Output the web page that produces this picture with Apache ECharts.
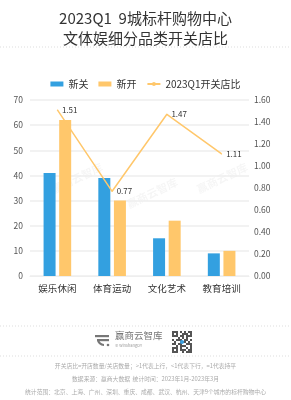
<!DOCTYPE html>
<html><head><meta charset="utf-8">
<script src="https://cdn.jsdelivr.net/npm/echarts@6/dist/echarts.min.js"></script>
<style>html,body{margin:0;padding:0;background:#fff}#c{width:291px;height:400px}</style>
</head><body><div id="c"></div>
<script>
const categories = ['娱乐休闲','体育运动','文化艺术','教育培训'];
const closeVals = [41, 39, 15, 9];
const openVals = [62, 30, 22, 10];
const ratioVals = [1.51, 0.77, 1.47, 1.11];
const leftTicks = [0,10,20,30,40,50,60,70];
const rightTicks = [0,0.2,0.4,0.6,0.8,1.0,1.2,1.4,1.6];
const footLines = [
 '开关店比=开店数量/关店数量；>1代表上行，<1代表下行，=1代表持平',
 '数据来源：赢商大数据  统计时间：2023年1月-2023年3月',
 '统计范围：北京、上海、广州、深圳、重庆、成都、武汉、杭州、天津9个城市的标杆购物中心'
];
const qr = [
 '1110101011','1010011101','1110110111','0001010100','1011101101',
 '0100111010','1101100111','0010111001','1110100101','1010111011','1110010111'
];
const font = '"Noto Sans CJK SC","Noto Sans",sans-serif';
const chart = echarts.init(document.getElementById('c'));
const graphics = [
 {type:'line',shape:{x1:0,y1:47,x2:291,y2:47},style:{stroke:'#ddd',lineDash:[1,2],lineWidth:1}},
 {type:'line',shape:{x1:0,y1:326,x2:291,y2:326},style:{stroke:'#ddd',lineDash:[1,2],lineWidth:1}},
 {type:'line',shape:{x1:0,y1:356,x2:291,y2:356},style:{stroke:'#ddd',lineDash:[1,2],lineWidth:1}},
 {type:'rect',shape:{x:95,y:335,width:14,height:2.2},style:{fill:'#777'}},
 {type:'rect',shape:{x:97,y:339,width:12,height:2.2},style:{fill:'#777'}},
 {type:'arc',shape:{cx:104,cy:339,r:6,startAngle:Math.PI/2,endAngle:Math.PI},style:{stroke:'#777',lineWidth:2.2,fill:null}},
 {type:'circle',shape:{cx:108,cy:345,r:1.3},style:{fill:'#777'}},
 {type:'text',left:115,top:331,style:{text:'赢商云智库',font:'9.5px '+font,fill:'#777'}},
 {type:'text',left:115,top:343,style:{text:'© winshangDY',font:'4px '+font,fill:'#999'}},
 {type:'text',x:50,y:185,rotation:Math.PI/7,style:{text:'赢商云智库',font:'bold 11px '+font,fill:'rgba(0,0,0,0.04)'}},
 {type:'text',x:125,y:200,rotation:Math.PI/7,style:{text:'赢商云智库',font:'bold 11px '+font,fill:'rgba(0,0,0,0.04)'}},
 {type:'text',x:195,y:185,rotation:Math.PI/7,style:{text:'赢商云智库',font:'bold 11px '+font,fill:'rgba(0,0,0,0.04)'}}
];
qr.forEach((row,r)=>{for(let c=0;c<row.length;c++){if(row[c]==='1')graphics.push({type:'rect',shape:{x:172+c*2,y:331+r*2,width:2,height:2},style:{fill:'#555'}});}});
graphics.push({type:'circle',shape:{cx:182,cy:342,r:2},style:{fill:'#3aa0e0'}});
footLines.forEach((t,i)=>graphics.push({type:'text',x:145.5,y:366+i*13,style:{text:t,font:'5.8px '+font,fill:'#aaa',textAlign:'center',textVerticalAlign:'middle'}}));

chart.setOption({
 animation:false,
 textStyle:{fontFamily:font},
 title:{text:'2023Q1  9城标杆购物中心\n文体娱细分品类开关店比',left:'center',top:3,
   textStyle:{fontSize:15,fontWeight:'normal',color:'#333',lineHeight:20,fontFamily:font}},
 legend:{top:74,left:'center',itemWidth:13,itemHeight:5,itemGap:10,
   textStyle:{fontSize:10,color:'#333'},
   data:[{name:'新关',icon:'rect'},{name:'新开',icon:'rect'},{name:'2023Q1开关店比'}]},
 grid:{left:30,right:42,top:100,bottom:124},
 xAxis:{type:'category',data:categories,axisTick:{show:false},
   axisLine:{lineStyle:{color:'#eee'}},axisLabel:{fontSize:9.5,color:'#333',margin:8}},
 yAxis:[
  {type:'value',min:0,max:70,interval:10,axisLabel:{fontSize:8.5,color:'#555',margin:7},
   splitLine:{lineStyle:{color:'#eee',width:1.5}},axisLine:{show:false},axisTick:{show:false}},
  {type:'value',min:0,max:1.6,interval:0.2,axisLabel:{fontSize:8.5,color:'#555',margin:5,formatter:v=>v.toFixed(2)},
   splitLine:{show:false},axisLine:{show:false},axisTick:{show:false}}
 ],
 series:[
  {name:'新关',type:'bar',data:closeVals,barWidth:12,barGap:'30%',itemStyle:{color:'#33a0e0'}},
  {name:'新开',type:'bar',data:openVals,barWidth:12,itemStyle:{color:'#ffc76b'}},
  {name:'2023Q1开关店比',type:'line',yAxisIndex:1,data:ratioVals,symbol:'circle',symbolSize:1,showSymbol:true,
   lineStyle:{color:'#ffc76b',width:1.5},itemStyle:{color:'#ffc76b'},
   label:{show:true,position:'right',distance:4,fontSize:8,color:'#333',formatter:p=>p.value.toFixed(2)}}
 ],
 graphic:graphics
});
</script></body></html>
